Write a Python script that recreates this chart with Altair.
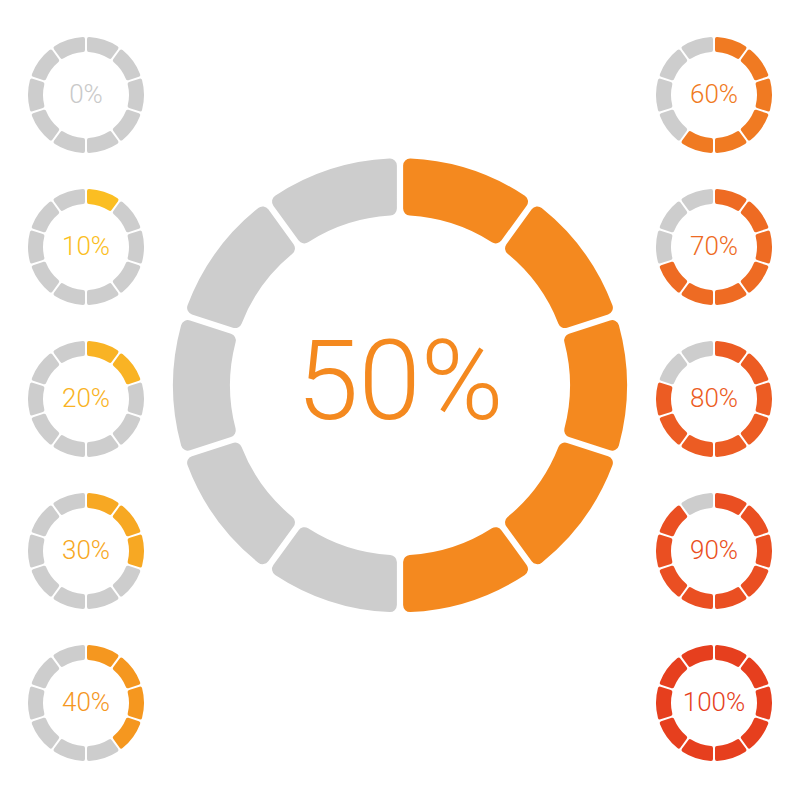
import altair as alt
import pandas as pd

labels = ["0%", "10%", "20%", "30%", "40%", "50%", "60%", "70%", "80%", "90%", "100%"]
filled = [0, 1, 2, 3, 4, 5, 6, 7, 8, 9, 10]
colors = ["#C9C9C9", "#FBBE22", "#F9B324", "#F7A823", "#F5971F", "#F4891F",
          "#F07A22", "#EE6B23", "#EC5C23", "#EA4F22", "#E63F1E"]
cols = [0, 0, 0, 0, 0, 1, 2, 2, 2, 2, 2]
rows = [0, 1, 2, 3, 4, 1.91, 0, 1, 2, 3, 4]
big = [False, False, False, False, False, True, False, False, False, False, False]
gray = "#CDCDCD"
nseg = 10

seg_rows = []
for i, lab in enumerate(labels):
    for s in range(nseg):
        seg_rows.append({
            "ring": lab, "col": cols[i], "row": rows[i], "big": big[i],
            "s0": s, "s1": s + 1,
            "fill": colors[i] if s < filled[i] else gray,
        })
segs = pd.DataFrame(seg_rows)
txt = pd.DataFrame({"ring": labels, "col": cols, "row": rows, "big": big,
                    "tcolor": colors})

xs = alt.Scale(domain=[-0.2739, 2.2739], range=[0, 800])
ys = alt.Scale(domain=[-0.625, 4.638], range=[0, 800])
ts = alt.Scale(domain=[0, 10], range=[0, 6.283185307])

def enc_pos():
    return dict(
        x=alt.X("col:Q", scale=xs, axis=None),
        y=alt.Y("row:Q", scale=ys, axis=None),
    )

small_arcs = alt.Chart(segs).transform_filter("!datum.big").mark_arc(
    radius=58, radius2=43, padAngle=0.028, cornerRadius=2
).encode(
    theta=alt.Theta("s0:Q", scale=ts),
    theta2="s1:Q",
    color=alt.Color("fill:N", scale=None),
    **enc_pos()
)
big_arcs = alt.Chart(segs).transform_filter("datum.big").mark_arc(
    radius=227, radius2=170, padAngle=0.022, cornerRadius=7
).encode(
    theta=alt.Theta("s0:Q", scale=ts),
    theta2="s1:Q",
    color=alt.Color("fill:N", scale=None),
    **enc_pos()
)
font = "Roboto"
small_txt = alt.Chart(txt).transform_filter("!datum.big").mark_text(
    fontSize=26, font=font, fontWeight=300, baseline="middle", align="center"
).encode(
    text="ring:N", color=alt.Color("tcolor:N", scale=None), **enc_pos()
)
big_txt = alt.Chart(txt).transform_filter("datum.big").mark_text(
    fontSize=112, font=font, fontWeight=300, baseline="middle", align="center"
).encode(
    text="ring:N", color=alt.Color("tcolor:N", scale=None), **enc_pos()
)

chart = alt.layer(small_arcs, big_arcs, small_txt, big_txt).properties(
    width=800, height=800, padding=0, autosize=alt.AutoSizeParams(type="none"),
    background="white"
).configure_view(stroke=None)

chart.save("out.html", embed_options={"renderer": "svg", "actions": False})
